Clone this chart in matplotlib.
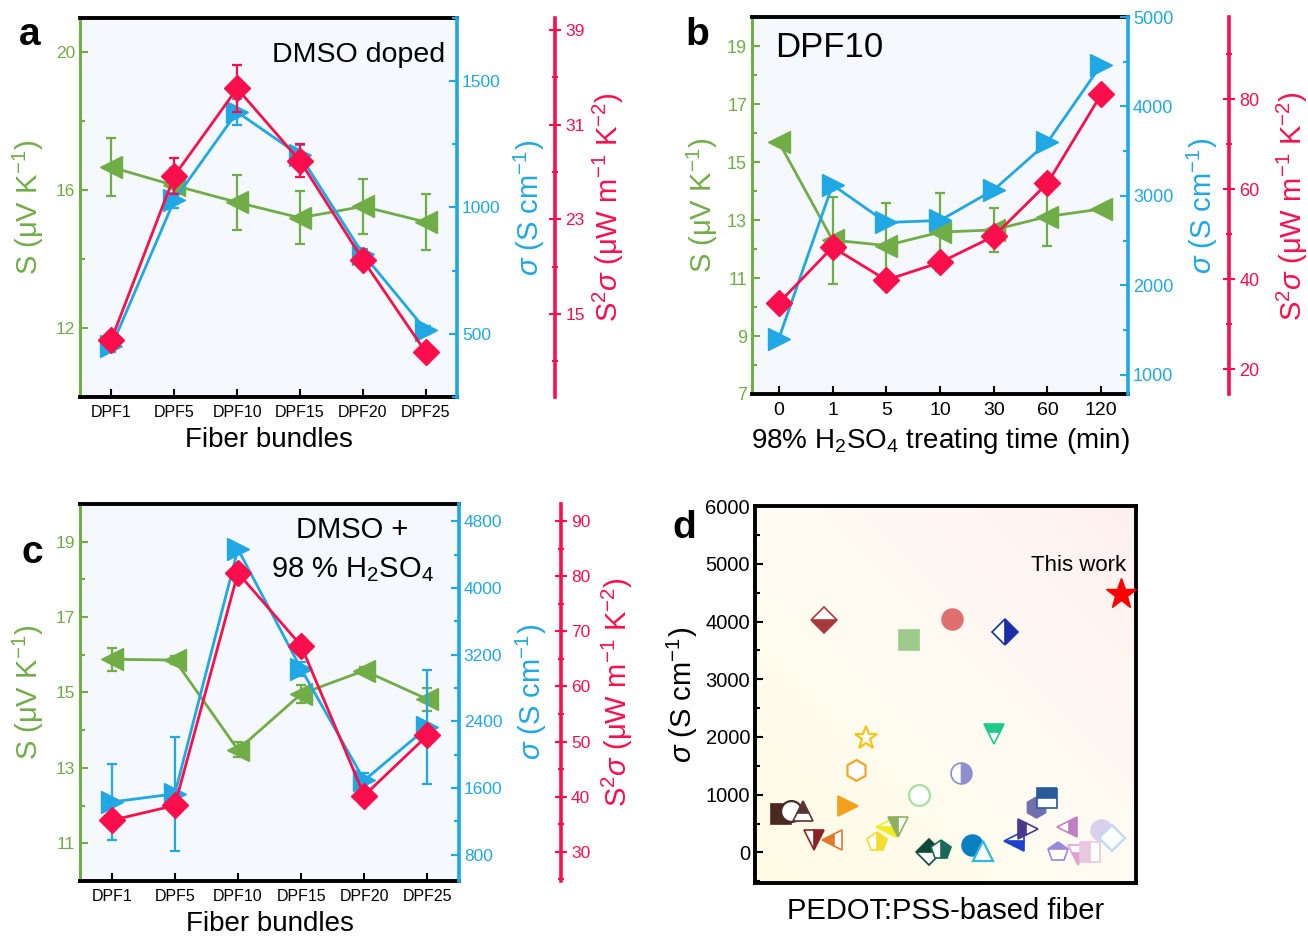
import numpy as np
import matplotlib
matplotlib.use('Agg')
import matplotlib.pyplot as plt
from matplotlib.ticker import MultipleLocator
from matplotlib.colors import LinearSegmentedColormap

plt.rcParams['font.family'] = ['Liberation Sans', 'DejaVu Sans']
plt.rcParams['mathtext.fontset'] = 'custom'
plt.rcParams['mathtext.rm'] = 'Liberation Sans'
plt.rcParams['mathtext.it'] = 'Liberation Sans:italic'
plt.rcParams['mathtext.bf'] = 'Liberation Sans:bold'

GREEN = '#70ad47'
BLUE = '#1fa8e3'
RED = '#fa0f4c'

# ---- data ----
bundles = ['DPF1', 'DPF5', 'DPF10', 'DPF15', 'DPF20', 'DPF25']

a_S = [16.67, 16.14, 15.65, 15.2, 15.53, 15.08]
a_S_err = [0.84, 0.5, 0.8, 0.77, 0.8, 0.8]
a_sig = [450, 1029, 1378, 1206, 817, 516]
a_sig_err = [20, 30, 53, 40, 20, 15]
a_pf = [12.85, 26.67, 34.05, 27.94, 19.6, 11.8]
a_pf_err = [0.5, 1.5, 2.0, 1.4, 0.6, 0.5]

times = ['0', '1', '5', '10', '30', '60', '120']
b_S = [15.69, 12.31, 12.12, 12.58, 12.66, 13.12, 13.38]
b_S_err = [0, 1.5, 1.47, 1.34, 0.75, 1.03, 0]
b_sig = [1405, 3123, 2703, 2725, 3067, 3599, 4465]
b_pf = [34.7, 47.1, 39.8, 43.7, 49.5, 61.3, 81.0]

c_S = [15.88, 15.86, 13.48, 14.96, 15.58, 14.82]
c_S_err = [0.3, 0.1, 0.2, 0.25, 0.1, 0.3]
c_sig = [1432, 1530, 4466, 3029, 1692, 2328]
c_sig_err = [455, 680, 0, 80, 90, 685]
c_pf = [35.7, 38.4, 80.6, 67.4, 40.2, 51.1]

# panel d: literature fibers
d_x = [18.0, 40.3, 51.6, 65.5, 29.1, 62.7, 26.5, 54.2, 43.1, 6.8, 9.5, 12.6,
       24.3, 15.4, 20.2, 32.0, 34.4, 37.6, 45.6, 48.9, 57.0, 59.8, 68.0, 71.6,
       73.8, 76.7, 81.8, 79.4, 84.7, 88.0, 90.7, 93.6]
d_y = [4029, 3681, 4040, 3826, 1988, 2058, 1420, 1380, 997, 667, 725, 725,
       812, 214, 214, 174, 446, 435, 0, 40, 128, 17, 191, 406,
       783, 945, 446, 0, -40, 0, 388, 243]
d_marker = ['D', 's', 'o', 'D', '*', 'v', 'h', 'o', 'o', 's', 'o', '^',
            '>', 'v', '<', 'p', '<', 'v', 'D', 'p', 'o', '^', '<', '>',
            'h', 's', '<', 'p', 'v', 's', 'o', 'D']
d_color = ['#a83a3a', '#9ccb8c', '#e07070', '#1a2ea8', '#f5c518', '#1fc98a',
           '#f5a623', '#8f8fd0', '#a8e0a0', '#4a2a1e', '#4a2a2a', '#5a3535',
           '#f5a01a', '#8b2525', '#e07a2a', '#f5dc2a', '#f0ee20', '#8fb060',
           '#0e4a3a', '#1a6a5a', '#0a80c0', '#30b8e0', '#2040d0', '#4a3a8a',
           '#7070b0', '#2a5a9a', '#c080c0', '#9a88d8', '#e0a0d0', '#e8c8e0',
           '#d8d0ec', '#c0d8f0']
d_fill = ['bottom', 'full', 'full', 'right', 'none', 'top', 'none', 'right',
          'none', 'full', 'none', 'top', 'full', 'right', 'left', 'right',
          'bottom', 'left', 'top', 'right', 'full', 'none', 'bottom', 'left',
          'full', 'top', 'right', 'top', 'bottom', 'left', 'full', 'none']
this_x = [96.0]
this_y = [4481]


def draw_series(ax, x, y, err, color, marker, ms, z):
    ex = [xi for xi, e in zip(x, err) if e > 0]
    ey = [yi for yi, e in zip(y, err) if e > 0]
    ee = [e for e in err if e > 0]
    if ee:
        ax.errorbar(ex, ey, yerr=ee, fmt='none', ecolor=color, elinewidth=1.6,
                    capsize=3.5, capthick=1.6, zorder=z)
    ax.plot(x, y, color=color, lw=2, marker=marker, ms=ms, zorder=z + 1)


def style_y(ax, color, lim, maj, mn, off, direction, fs):
    ax.set_ylim(*lim)
    ax.yaxis.set_major_locator(MultipleLocator(maj, offset=off))
    ax.yaxis.set_minor_locator(MultipleLocator(mn, offset=off))
    ax.tick_params(axis='y', which='both', direction=direction, color=color,
                   labelcolor=color, labelsize=fs, width=1.5)
    big = 8 if direction == 'inout' else 6
    ax.tick_params(axis='y', which='major', length=big)
    ax.tick_params(axis='y', which='minor', length=big * 0.6)


def triple_panel(rect, cats, S, S_err, sig, sig_err, pf, pf_err,
                 sax, sigax, pfax, red_off, xtick_fs, ytick_fs, ylab_x, xlabel):
    ax = fig.add_axes(rect)
    ax.set_facecolor('#f5f9fd')
    ax2 = ax.twinx()
    ax3 = ax.twinx()
    x = np.arange(len(cats))

    draw_series(ax, x, S, S_err, GREEN, '<', 16, 2)
    draw_series(ax2, x, sig, sig_err, BLUE, '>', 16, 2)
    draw_series(ax3, x, pf, pf_err, RED, 'D', 13, 2)

    ax.set_xlim(-0.5, len(cats) - 0.5)
    ax.set_xticks(x)
    ax.set_xticklabels(cats, fontsize=xtick_fs)
    ax.tick_params(axis='x', direction='in', length=6, width=1.5, pad=6)

    style_y(ax, GREEN, *sax, 'in', ytick_fs)
    style_y(ax2, BLUE, *sigax, 'in', ytick_fs)
    style_y(ax3, RED, *pfax, 'inout', ytick_fs)
    ax3.spines['right'].set_position(('axes', red_off))

    for a in (ax, ax2, ax3):
        for s in a.spines.values():
            s.set_visible(False)
    for side in ('top', 'bottom'):
        ax.spines[side].set_visible(True)
        ax.spines[side].set_linewidth(2.8)
        ax.spines[side].set_color('black')
    ax.spines['left'].set_visible(True)
    ax.spines['left'].set_linewidth(2.2)
    ax.spines['left'].set_color(GREEN)
    ax2.spines['right'].set_visible(True)
    ax2.spines['right'].set_linewidth(2.6)
    ax2.spines['right'].set_color(BLUE)
    ax3.spines['right'].set_visible(True)
    ax3.spines['right'].set_linewidth(2.6)
    ax3.spines['right'].set_color(RED)

    ax.set_ylabel(r'S (μV K$^{-1}$)', color=GREEN, fontsize=21)
    ax.yaxis.set_label_coords(ylab_x[0], 0.5)
    ax2.set_ylabel(r'$\sigma$ (S cm$^{-1}$)', color=BLUE, fontsize=21)
    ax2.yaxis.set_label_coords(ylab_x[1], 0.5)
    ax3.set_ylabel(r'S$^2$$\sigma$ (μW m$^{-1}$ K$^{-2}$)', color=RED, fontsize=21)
    ax3.yaxis.set_label_coords(ylab_x[2], 0.5)
    ax.set_xlabel(xlabel, fontsize=20, labelpad=5)
    return ax


fig = plt.figure(figsize=(13.08, 9.41), dpi=100)

# a
ax_a = triple_panel([0.0612, 0.5781, 0.2882, 0.4028], bundles,
                    a_S, a_S_err, a_sig, a_sig_err, a_pf, a_pf_err,
                    ((10, 21), 4, 2, 0), ((250, 1750), 500, 250, 0),
                    ((8, 40), 8, 4, 7), 1.26, 11.5, 12.5,
                    (-0.09, 1.145, 1.355), 'Fiber bundles')
ax_a.text(0.968, 0.902, 'DMSO doped', transform=ax_a.transAxes, ha='right',
          va='center', fontsize=20.5)

# b
ax_b = triple_panel([0.5749, 0.5813, 0.2875, 0.4006], times,
                    b_S, b_S_err, b_sig, [0] * 7, b_pf, [0] * 7,
                    ((7, 20), 2, 1, 1), ((785, 5000), 1000, 500, 0),
                    ((14.5, 98.2), 20, 10, 0), 1.269, 14, 13,
                    (-0.085, 1.15, 1.39),
                    r'98% H$_2$SO$_4$ treating time (min)')
ax_b.text(0.061, 0.918, 'DPF10', transform=ax_b.transAxes, ha='left',
          va='center', fontsize=25)

# c
ax_c = triple_panel([0.0612, 0.0638, 0.2897, 0.4006], bundles,
                    c_S, c_S_err, c_sig, c_sig_err, c_pf, [0] * 6,
                    ((10, 20), 2, 1, 1), ((485, 5007), 800, 400, 0),
                    ((24.7, 93.1), 10, 5, 0), 1.268, 11.5, 12.5,
                    (-0.09, 1.145, 1.372), 'Fiber bundles')
ax_c.text(0.718, 0.931, 'DMSO +', transform=ax_c.transAxes, ha='center',
          va='center', fontsize=21)
ax_c.text(0.718, 0.825, r'98 % H$_2$SO$_4$', transform=ax_c.transAxes,
          ha='center', va='center', fontsize=21)

# d
ax_d = fig.add_axes([0.5772, 0.0616, 0.2913, 0.4006])
cmap = LinearSegmentedColormap.from_list('bg', ['#fffbe4', '#fffcf3', '#fff0f0'])
gx, gy = np.meshgrid(np.linspace(0, 1, 200), np.linspace(0, 1, 200))
ax_d.imshow((gx + gy) / 2, extent=[0, 100, -530, 6000], origin='lower',
            aspect='auto', cmap=cmap, zorder=0)
for xi, yi, m, c, f in zip(d_x, d_y, d_marker, d_color, d_fill):
    ms = 17 if m == '*' else (13.5 if m == 'D' else 15)
    if f == 'none':
        ax_d.plot(xi, yi, marker=m, ms=ms, mfc='white', mec=c, mew=1.6,
                  ls='none', zorder=3)
    else:
        ax_d.plot(xi, yi, marker=m, ms=ms, color=c, mec=c, mew=1.2,
                  fillstyle=f, markerfacecoloralt='white', ls='none', zorder=3)
ax_d.plot(this_x, this_y, marker='*', ms=23, color='#ff0000', ls='none', zorder=4)
ax_d.text(84.8, 4969, 'This work', ha='center', va='center', fontsize=16)
ax_d.set_xlim(0, 100)
ax_d.set_ylim(-530, 6000)
ax_d.set_xticks([])
ax_d.yaxis.set_major_locator(MultipleLocator(1000))
ax_d.yaxis.set_minor_locator(MultipleLocator(500))
ax_d.tick_params(axis='y', which='both', direction='in', labelsize=14.5, width=1.5)
ax_d.tick_params(axis='y', which='major', length=6)
ax_d.tick_params(axis='y', which='minor', length=3.5)
for s in ax_d.spines.values():
    s.set_linewidth(2.8)
ax_d.set_ylabel(r'$\sigma$ (S cm$^{-1}$)', fontsize=21)
ax_d.yaxis.set_label_coords(-0.145, 0.5)
ax_d.set_xlabel('PEDOT:PSS-based fiber', fontsize=21, labelpad=10)

# panel letters
for lbl, px, py in [('a', 0.023, 0.963), ('b', 0.533, 0.963),
                    ('c', 0.0245, 0.412), ('d', 0.523, 0.439)]:
    fig.text(px, py, lbl, fontsize=28, fontweight='bold', ha='center', va='center')

fig.savefig('out.png', dpi=100)
